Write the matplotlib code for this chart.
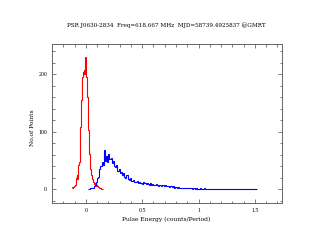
import numpy as np
import matplotlib
matplotlib.use("Agg")
import matplotlib.pyplot as plt
from matplotlib.ticker import MultipleLocator

title = "PSR J0630-2834  Freq=618.667 MHz  MJD=58739.4925837 @GMRT"
xlabel = "Pulse Energy (counts/Period)"
ylabel = "No.of Points"

# Off-pulse (red) histogram: bin start, width, counts
red_start = -0.125
red_width = 0.005
red_counts = [3, 4, 2, 4, 5, 6, 8, 12, 20, 24, 18, 28, 42, 48, 80, 109,
              130, 155, 175, 196, 205, 208, 200, 215, 231, 214, 196, 160,
              130, 103, 80, 62, 48, 35, 28, 24, 18, 15, 12, 10, 9, 8, 11,
              6, 7, 5, 4, 4, 3, 3, 2, 2, 1, 1, 0, 0]

# On-pulse (blue) histogram: bin start, width, counts
blue_start = 0.02
blue_width = 0.01
blue_counts = [1, 1, 2, 3, 2, 5, 8, 12, 20, 22, 35, 40, 48, 42, 68, 50,
               58, 48, 62, 52, 55, 45, 50, 40, 38, 42, 32, 35, 28, 30, 24,
               28, 22, 20, 24, 18, 16, 20, 15, 14, 16, 13, 12, 14, 11, 12,
               10, 11, 9, 12, 10, 9, 11, 9, 8, 10, 8, 9, 7, 8, 9, 7, 6, 8,
               7, 6, 7, 5, 7, 6, 5, 6, 4, 5, 4, 5, 3, 4, 4, 3, 4, 3, 3, 2,
               3, 2, 3, 2, 2, 3, 2, 2, 1, 2, 2, 1, 2, 1, 1, 2, 1, 1, 1, 2,
               1, 1, 0, 1, 1, 0, 1, 1, 0, 1, 0, 1, 0, 0, 1, 0, 0, 1, 0, 0,
               1, 0, 0, 0, 1, 0, 0, 0, 0, 1, 0, 0, 0, 1, 0, 0, 0, 0, 1, 0,
               0, 0, 1, 0, 0, 0]

xticks = [0, 0.5, 1, 1.5]
xticklabels = ["0", "0.5", "1", "1.5"]
yticks = [0, 100, 200]
yticklabels = ["0", "100", "200"]

font = "DejaVu Serif"
tfont = "Liberation Serif"
fig = plt.figure(figsize=(3.19, 2.47), dpi=100)
ax = fig.add_axes([52 / 319, 1 - 203 / 247, 230 / 319, 159 / 247])

red_edges = red_start + red_width * np.arange(len(red_counts) + 1)
blue_edges = blue_start + blue_width * np.arange(len(blue_counts) + 1)
ax.stairs(red_counts, red_edges, baseline=None, color="red", linewidth=0.8)
ax.stairs(blue_counts, blue_edges, baseline=None, color="blue", linewidth=0.8)

ax.set_xlim(-0.3, 1.74)
ax.set_ylim(-24, 253)
ax.set_xticks(xticks)
ax.set_xticklabels(xticklabels, fontsize=4.2, family=tfont)
ax.set_yticks(yticks)
ax.set_yticklabels(yticklabels, fontsize=4.2, family=tfont)
ax.xaxis.set_minor_locator(MultipleLocator(0.1))
ax.yaxis.set_minor_locator(MultipleLocator(20))
edge = "#666666"
for s in ax.spines.values():
    s.set_color(edge)
    s.set_linewidth(0.7)
ax.tick_params(which="both", direction="in", top=True, right=True,
               color=edge, width=0.6)
ax.tick_params(which="major", length=3)
ax.tick_params(axis="x", which="major", pad=3.5)
ax.tick_params(axis="y", which="major", pad=3.5)
ax.tick_params(which="minor", length=1.8)

fig.text(166 / 319, 1 - 25 / 247, title, ha="center",
         va="center", fontsize=4.1, family=font)
fig.text(166 / 319, 1 - 219 / 247, xlabel, ha="center",
         va="center", fontsize=4.3, family=font)
fig.text(33 / 319, 1 - 128 / 247, ylabel, ha="center", va="center",
         rotation=90, fontsize=4.3, family=font)

fig.savefig("out.png", dpi=100)
